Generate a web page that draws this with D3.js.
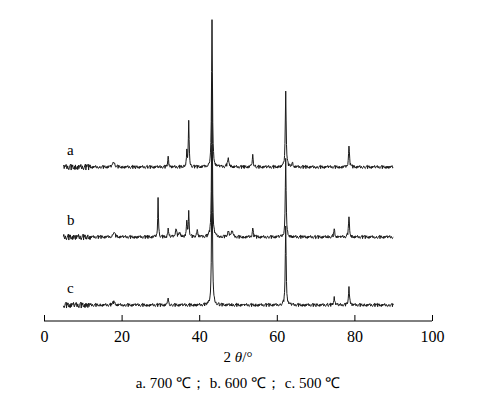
<!DOCTYPE html>
<html><head><meta charset="utf-8">
<script src="https://cdn.jsdelivr.net/npm/d3@7"></script>
<style>body{margin:0;background:#fff}</style>
</head><body>
<svg width="482" height="403"></svg>
<script>
var seriesNames = ["a", "b", "c"];
var offsets = [154, 84, 16];
// peaks per series: [2theta, height, half width]
var peaksA = [[18, 5, 0.3], [32, 12, 0.12], [36.8, 15, 0.12], [37.3, 45, 0.12], [43.3, 149, 0.13], [47.5, 8, 0.25], [53.8, 12, 0.15], [62.3, 77, 0.13], [64, 4, 0.2], [78.6, 20, 0.15]];
var peaksB = [[18, 5, 0.3], [29.4, 40, 0.1], [32, 8, 0.12], [34, 8, 0.2], [35, 5, 0.2], [36.8, 15, 0.12], [37.3, 25, 0.12], [39.5, 8, 0.15], [43.3, 149, 0.13], [47.5, 6, 0.2], [48.5, 6, 0.2], [53.8, 8, 0.15], [62.3, 77, 0.13], [74.8, 8, 0.15], [78.6, 20, 0.15]];
var peaksC = [[18, 3, 0.3], [32, 8, 0.12], [43.3, 149, 0.13], [62.3, 80, 0.13], [74.8, 8, 0.15], [78.6, 18, 0.15]];
var jitter = [0.6, -1.2, 1.5, -0.4, 0.9, -1.7, 0.2, 1.1, -0.8, 1.8, -1.4, 0.3, -0.6, 1.3, -1.0, 0.7, -1.9, 0.5, 1.6, -0.2, -1.1, 0.8, -0.5, 1.4, -1.6, 0.1, 1.0, -0.9, 0.4, -1.3, 0.0];
var xTicks = [0, 20, 40, 60, 80, 100];

var svg = d3.select("svg");
var x = d3.scaleLinear().domain([0, 100]).range([44, 432]);
var y = d3.scaleLinear().domain([0, 300]).range([321, 21]);

function profile(peaks, k) {
  var pts = [];
  for (var i = 0; i <= 850; i++) {
    var t = 5 + i * 0.1, v = 0;
    peaks.forEach(function (p) { var d = (t - p[0]) / p[2]; v += p[1] / (1 + d * d); });
    var amp = t < 12 ? 1.6 : 0.9;
    v += jitter[(i * 7 + k * 11 + Math.floor(i / 31) * 13) % jitter.length] * amp;
    pts.push([t, v + offsets[k]]);
  }
  return pts;
}

var line = d3.line().x(function (d) { return x(d[0]); }).y(function (d) { return y(d[1]); });
[peaksA, peaksB, peaksC].forEach(function (pk, k) {
  svg.append("path").attr("d", line(profile(pk, k)))
    .attr("fill", "none").attr("stroke", "#1a1a1a").attr("stroke-width", 1);
  svg.append("text").attr("x", 67).attr("y", y(offsets[k] + 12))
    .attr("font-family", "Liberation Serif").attr("font-size", 15).text(seriesNames[k]);
});

var g = svg.append("g").attr("transform", "translate(0,321)");
g.call(d3.axisBottom(x).tickValues(xTicks).tickSize(-6).tickPadding(10));
g.select(".domain").attr("stroke", "#000").attr("d", "M44,0H432");
g.selectAll("text").attr("font-family", "Liberation Serif").attr("font-size", 16).attr("fill", "#000");

svg.append("text").attr("x", 238).attr("y", 362).attr("text-anchor", "middle")
  .attr("font-family", "Liberation Serif").attr("font-size", 15)
  .html('2 <tspan font-style="italic">θ</tspan>/°');
svg.append("text").attr("x", 238).attr("y", 388).attr("text-anchor", "middle")
  .attr("font-family", "Liberation Serif").attr("font-size", 15)
  .text("a. 700 ℃； b. 600 ℃； c. 500 ℃");
</script>
</body></html>
